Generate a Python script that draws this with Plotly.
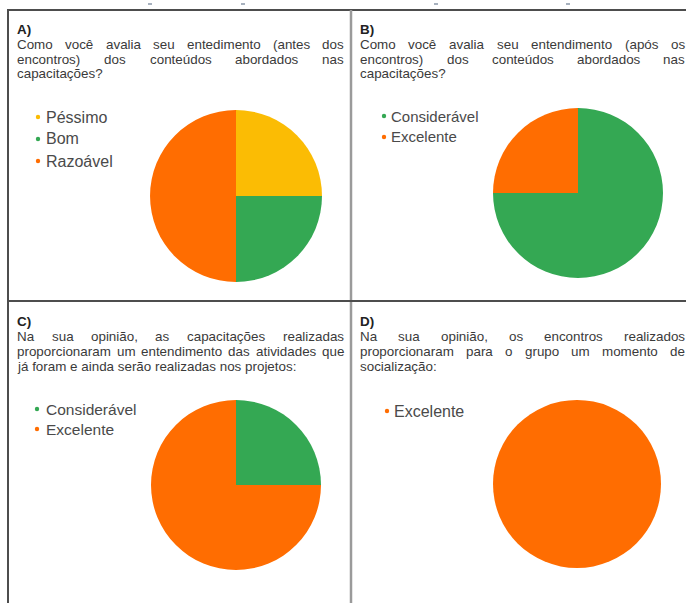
import plotly.graph_objects as go

W, H = 686, 603

# ---------------- data ----------------
labels_a = ["Péssimo", "Bom", "Razoável"]
values_a = [25, 25, 50]
colors_a = ["#FBBC04", "#34A853", "#FF6D01"]

labels_b = ["Considerável", "Excelente"]
values_b = [75, 25]
colors_b = ["#34A853", "#FF6D01"]

labels_c = ["Considerável", "Excelente"]
values_c = [25, 75]
colors_c = ["#34A853", "#FF6D01"]

labels_d = ["Excelente"]
values_d = [100]
colors_d = ["#FF6D01"]

panel_tags = ["A)", "B)", "C)", "D)"]
question_a = ["Como você avalia seu entedimento (antes dos",
              "encontros) dos conteúdos abordados nas",
              "capacitações?"]
question_b = ["Como você avalia seu entendimento (após os",
              "encontros) dos conteúdos abordados nas",
              "capacitações?"]
question_c = ["Na sua opinião, as capacitações realizadas",
              "proporcionaram um entendimento das atividades que",
              "já foram e ainda serão realizadas nos projetos:"]
question_d = ["Na sua opinião, os encontros realizados",
              "proporcionaram para o grupo um momento de",
              "socialização:"]

# ---------------- helpers ----------------
FONT = "Liberation Sans, Arial, sans-serif"
TXT = "#3a3a3a"
LEG = "#4a4a4a"
QSIZE = 13.4

AW = {}
for ch in "abdeghnopqu":
    AW[ch] = 556
for ch in "cksvxyz":
    AW[ch] = 500
for ch in "ftí":
    AW[ch] = 278
for ch in "ijl":
    AW[ch] = 222
AW.update({"m": 833, "r": 333, "w": 722, "á": 556, "à": 556, "â": 556, "ã": 556,
           "é": 556, "ê": 556, "ó": 556, "ô": 556, "õ": 556, "ú": 556, "ç": 500,
           "(": 333, ")": 333, "?": 556, ":": 278, ",": 278, ".": 278, " ": 278,
           "C": 722, "N": 722})


def tw(s, size):
    return sum(AW.get(ch, 556) for ch in s) / 1000.0 * size


def px(x):
    return x / W


def py(y):
    return 1 - y / H


annotations = []
shapes = []


def add_text(text, x, y, size, color=TXT, bold=False, anchor="left"):
    annotations.append(dict(
        text=f"<b>{text}</b>" if bold else text,
        x=px(x), y=py(y), xref="paper", yref="paper",
        xanchor=anchor, yanchor="middle", showarrow=False,
        borderpad=0,
        font=dict(family=FONT, size=size, color=color)))


def add_question(tag, lines, left, right, y0, dy):
    add_text(tag, left, y0, QSIZE, color="#222222", bold=True)
    for i, line in enumerate(lines):
        y = y0 + dy * (i + 1)
        words = line.split(" ")
        if i == len(lines) - 1 or len(words) < 2:
            add_text(line, left, y, QSIZE)
            continue
        widths = [tw(w, QSIZE) for w in words]
        gap = (right - left - sum(widths)) / (len(words) - 1)
        x = left
        for w, wd in zip(words, widths):
            add_text(w, x, y, QSIZE)
            x += wd + gap


def add_legend(labels, colors, xdot, xtext, ys, size):
    for lab, col, y in zip(labels, colors, ys):
        r = 2.2
        shapes.append(dict(type="circle", xref="paper", yref="paper",
                           x0=px(xdot - r), x1=px(xdot + r),
                           y0=py(y + r), y1=py(y - r),
                           fillcolor=col, line=dict(width=0)))
        add_text(lab, xtext, y, size, color=LEG)


def pie(labels, values, colors, cx, cy, r):
    return go.Pie(labels=labels, values=values, sort=False,
                  direction="clockwise", rotation=0,
                  marker=dict(colors=colors, line=dict(width=0)),
                  textinfo="none", hoverinfo="label+percent",
                  showlegend=False,
                  domain=dict(x=[px(cx - r), px(cx + r)],
                              y=[py(cy + r), py(cy - r)]))


fig = go.Figure()
fig.add_trace(pie(labels_a, values_a, colors_a, 236, 196, 86))
fig.add_trace(pie(labels_b, values_b, colors_b, 578, 193, 85))
fig.add_trace(pie(labels_c, values_c, colors_c, 236, 485, 85))
fig.add_trace(pie(labels_d, values_d, colors_d, 577, 484, 84))

add_question(panel_tags[0], question_a, 16, 343, 30, 14.5)
add_question(panel_tags[1], question_b, 359, 684, 30, 14.5)
add_question(panel_tags[2], question_c, 16, 343, 321, 15)
add_question(panel_tags[3], question_d, 359, 684, 321, 15)

add_legend(labels_a, colors_a, 38, 45, [117, 139, 161], 16)
add_legend(labels_b, colors_b, 384, 390, [116, 137], 15)
add_legend(labels_c, colors_c, 37, 45, [409, 429], 15.5)
add_legend(labels_d, colors_d, 387, 393, [411], 16)

# panel borders
def line(x0, y0, x1, y1, color, width):
    shapes.append(dict(type="line", xref="paper", yref="paper",
                       x0=px(x0), y0=py(y0), x1=px(x1), y1=py(y1),
                       line=dict(color=color, width=width)))

line(7, 10, 686, 10, "#4d4d4d", 2)
line(8, 9, 8, 603, "#4d4d4d", 2)
line(351, 10, 351, 603, "#9a9a9a", 2.5)
line(8, 301, 686, 301, "#4d4d4d", 2)
for tx in [150, 243, 436, 568]:
    line(tx - 2, 4, tx + 2, 4, "#8a97a8", 1.5)

fig.update_layout(width=W, height=H, autosize=False,
                  margin=dict(l=0, r=0, t=0, b=0),
                  paper_bgcolor="white", plot_bgcolor="white",
                  annotations=annotations, shapes=shapes)

fig.write_html("out.html")
